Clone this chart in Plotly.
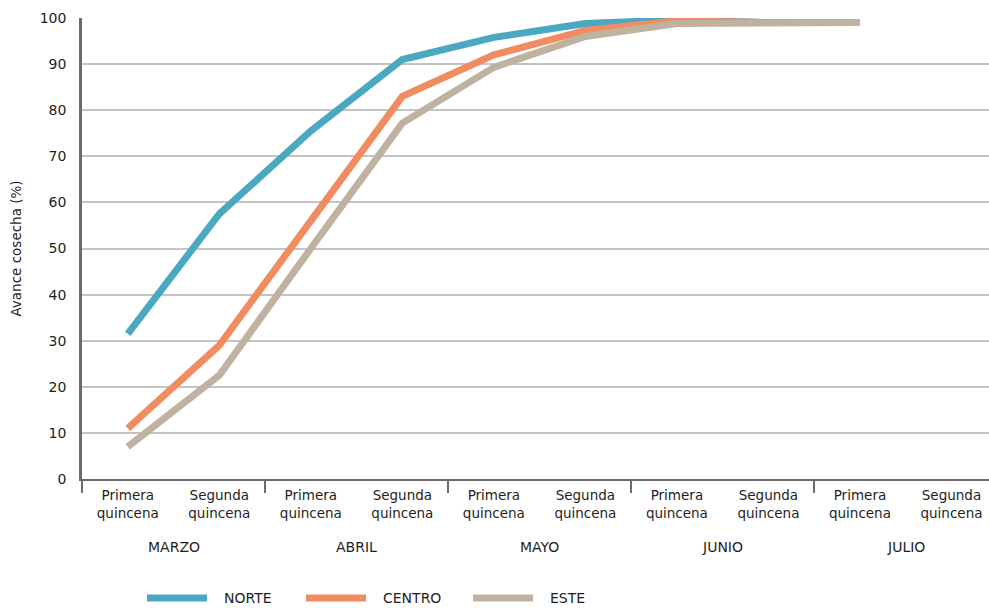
import plotly.graph_objects as go

months = ["MARZO", "ABRIL", "MAYO", "JUNIO", "JULIO"]
halves = ["Primera<br>quincena", "Segunda<br>quincena"]
tick_labels = [h for m in months for h in halves]
x_idx = list(range(len(tick_labels)))

norte = [31.5, 57.5, 75.5, 91, 95.8, 98.8, 99.6, 99.0, 99.0]
centro = [11, 29, 56, 83, 92, 97.3, 99.4, 99.0, 99.0]
este = [7, 22.5, 50, 77.2, 89.3, 96, 98.8, 99, 99]

colors = {"NORTE": "#4aa8c1", "CENTRO": "#f18b60", "ESTE": "#bfb2a1"}
series = [("NORTE", norte), ("CENTRO", centro), ("ESTE", este)]

FONT = "'DejaVu Sans', sans-serif"
TXT = "#1e1e1e"
W, H = 989, 608
ML, MT, MR = 82, 18, 0
MB = H - 479
PW = W - ML - MR
PH = H - MT - MB

fig = go.Figure()
for name, vals in series:
    fig.add_trace(go.Scatter(
        x=x_idx[:len(vals)], y=vals, name=name, mode="lines",
        line=dict(color=colors[name], width=7),
        showlegend=False,
    ))

for i, m in enumerate(months):
    fig.add_annotation(x=2 * i + 0.5, y=0, xref="x", yref="paper",
                       text=m, showarrow=False, yanchor="middle", yshift=-68,
                       font=dict(family=FONT, size=14, color=TXT))

# legend drawn at pixel positions (converted to paper coords)
leg_y_px = 598
leg_items = [("NORTE", 146), ("CENTRO", 305), ("ESTE", 472)]
for name, x0 in leg_items:
    yp = (H - MB - leg_y_px) / PH
    fig.add_shape(type="line", xref="paper", yref="paper",
                  x0=(x0 + 1 - ML) / PW, x1=(x0 + 61 - ML) / PW, y0=yp, y1=yp,
                  line=dict(color=colors[name], width=7))
    fig.add_annotation(x=(x0 + 76 - ML) / PW, y=yp, xref="paper", yref="paper",
                       text=name, showarrow=False, xanchor="left", yanchor="middle",
                       font=dict(family=FONT, size=14, color=TXT))

fig.update_layout(
    width=W, height=H,
    margin=dict(l=ML, r=MR, t=MT, b=MB, autoexpand=False),
    plot_bgcolor="white", paper_bgcolor="white",
    font=dict(family=FONT, size=14, color=TXT),
    showlegend=False,
    xaxis=dict(
        range=[-0.5, 9.41], tickvals=x_idx, ticktext=tick_labels,
        showgrid=False, zeroline=False, automargin=False,
        showline=True, linecolor="#6b6b6b", linewidth=2,
        ticks="", ticklabelstandoff=3,
        minor=dict(tick0=-0.5, dtick=2, ticks="outside", ticklen=12,
                   tickcolor="#6b6b6b", tickwidth=2, showgrid=False),
        tickfont=dict(size=13.5),
    ),
    yaxis=dict(
        range=[0, 100], dtick=10, showgrid=True, gridcolor="#c4c4c4", gridwidth=1.5,
        zeroline=False, showline=True, linecolor="#6b6b6b", linewidth=2.5,
        ticks="", ticklabelstandoff=10, automargin=False,
        title=dict(text="Avance cosecha (%)", standoff=15, font=dict(size=13.5)),
        tickfont=dict(size=14),
    ),
)

fig.write_html("out.html", config={"displayModeBar": False},
               post_script="document.body.style.margin='0';document.body.style.overflow='hidden';")
